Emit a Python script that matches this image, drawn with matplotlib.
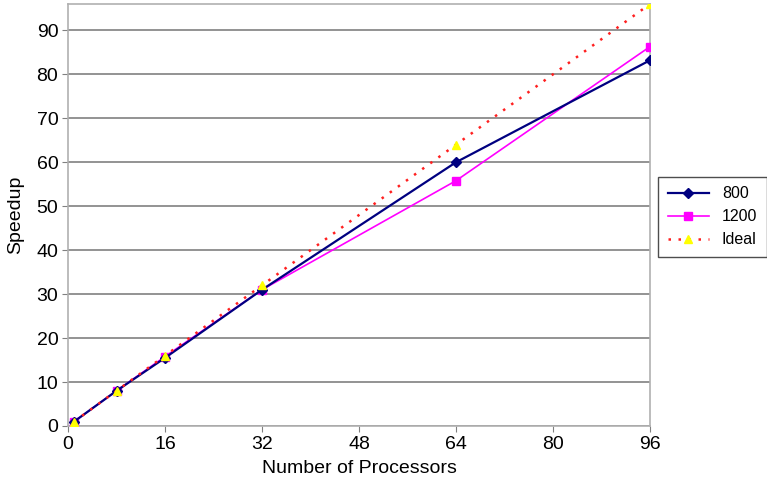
import matplotlib
matplotlib.use('Agg')
import matplotlib.pyplot as plt

######################## data ########################
procs = [1, 8, 16, 32, 64, 96]
speedup_800 = [1, 8, 15.5, 31, 60, 83.2]
speedup_1200 = [1, 8, 15.8, 31, 55.8, 86.3]
speedup_ideal = [1, 8, 16, 32, 64, 96]

x_ticks = [0, 16, 32, 48, 64, 80, 96]
y_ticks = [0, 10, 20, 30, 40, 50, 60, 70, 80, 90]

plt.rcParams['font.family'] = ['Liberation Sans', 'DejaVu Sans']

fig = plt.figure(figsize=(7.67, 4.84), dpi=100)
ax = fig.add_axes([68/767, 1-426/484, (650-68)/767, (426-4)/484])

ax.plot(procs, speedup_800, color='#000080', lw=1.6, marker='D', ms=5,
        label='800', zorder=4)
ax.plot(procs, speedup_1200, color='#FF00FF', lw=1.2, marker='s', ms=5.5,
        label='1200', zorder=3)
ax.plot(procs, speedup_ideal, color='#FF2020', lw=1.8, ls=(0, (1, 3)),
        marker='^', ms=6, mfc='#FFFF00', mec='#FFFF00', label='Ideal', zorder=5)

ax.set_xlim(0, 96)
ax.set_ylim(0, 96)
ax.set_xticks(x_ticks)
ax.set_yticks(y_ticks)
ax.yaxis.grid(True, color='#808080', lw=1.2)
ax.set_axisbelow(True)
for s in ax.spines.values():
    s.set_color('#b0b0b0')
    s.set_linewidth(1.2)
ax.tick_params(direction='out', length=4, color='#808080', labelsize=14, pad=3)

ax.set_xlabel('Number of Processors', fontsize=14, labelpad=5)
ax.set_ylabel('Speedup', fontsize=14, labelpad=9)

leg = ax.legend(loc='center left', bbox_to_anchor=(1.0137, 0.496), fontsize=11.5,
                frameon=True, fancybox=False, edgecolor='#202020',
                handlelength=2.6, borderpad=0.6, labelspacing=0.5, borderaxespad=0)
leg.get_frame().set_linewidth(1.0)

fig.savefig('out.png', dpi=100)
